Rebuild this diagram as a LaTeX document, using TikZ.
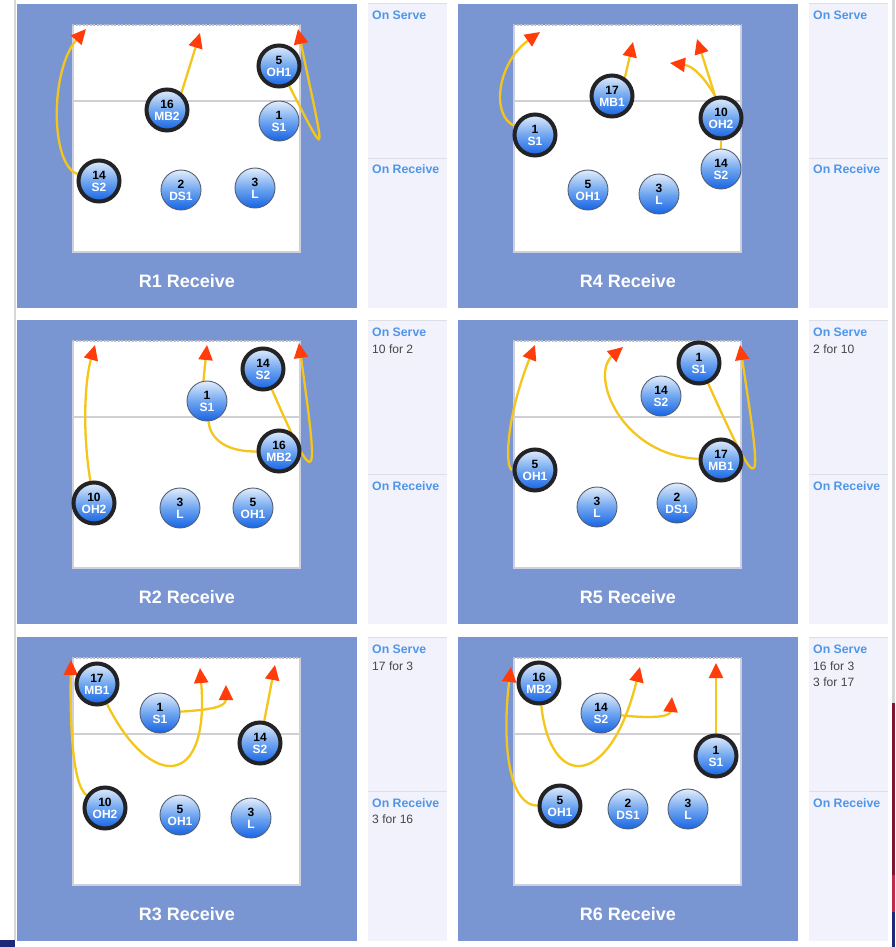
\documentclass[tikz,border=0pt]{standalone}
\usepackage{fontspec}
\setmainfont{Liberation Sans}
\usetikzlibrary{arrows.meta}
\definecolor{panelblue}{RGB}{121,149,210}
\definecolor{sidebg}{RGB}{241,242,252}
\definecolor{sideline}{RGB}{220,222,232}
\definecolor{courtline}{RGB}{205,209,222}
\definecolor{netline}{RGB}{208,208,212}
\definecolor{servblue}{RGB}{80,150,232}
\definecolor{subtext}{RGB}{70,70,70}
\definecolor{pltop}{RGB}{226,237,251}
\definecolor{plmid}{RGB}{112,166,240}
\definecolor{plbot}{RGB}{22,100,228}
\definecolor{plborder}{RGB}{85,95,115}
\definecolor{ringc}{RGB}{35,35,38}
\definecolor{mvyellow}{RGB}{244,198,28}
\definecolor{tipred}{RGB}{255,60,10}
\definecolor{edgegray}{RGB}{215,215,218}
\definecolor{navy}{RGB}{30,40,120}
\definecolor{maroon}{RGB}{125,22,50}
\definecolor{crimson}{RGB}{190,45,75}
\pgfdeclarelayer{back}\pgfdeclarelayer{mid}\pgfsetlayers{back,mid,main}
\tikzset{
  pl/.style={circle, inner sep=0pt, minimum size=40pt, draw=plborder, line width=0.9pt,
    top color=pltop, bottom color=plbot, middle color=plmid, align=center,
    font=\fontsize{12}{12}\selectfont\bfseries, text=white},
  plb/.style={pl, minimum size=41pt, draw=ringc, line width=4pt},
  mv/.style={draw=mvyellow, line width=2.3pt, -{Triangle[length=15pt,width=14pt,color=tipred]}},
  mvline/.style={draw=mvyellow, line width=2.3pt},
  paneltitle/.style={anchor=base, text=white, font=\fontsize{18}{20}\selectfont\bfseries},
  sidehead/.style={anchor=base west, inner sep=0pt, text=servblue, font=\fontsize{12.3}{14}\selectfont\bfseries},
  sidesub/.style={anchor=base west, inner sep=0pt, text=subtext, font=\fontsize{12.1}{14}\selectfont},
}
\newcommand{\vbpanel}[4]{%
  \begin{pgfonlayer}{back}
  \fill[panelblue] (17+#1,#2) rectangle (357+#1,#2+304);
  \fill[white] (73+#1,#2+21) rectangle (300+#1,#2+248);
  \draw[courtline, line width=2.5pt] (73+#1,#2+21) -- (73+#1,#2+248) -- (300+#1,#2+248) -- (300+#1,#2+21);
  \draw[gray!50, line width=1.5pt, dash pattern=on 2pt off 1.5pt] (72+#1,#2+21) -- (301+#1,#2+21);
  \draw[netline, line width=2pt] (74+#1,#2+97) -- (299+#1,#2+97);
  \fill[sidebg] (368+#1,#2) rectangle (447+#1,#2+304);
  \draw[sideline, line width=1pt] (368+#1,#2) -- (447+#1,#2);
  \draw[sideline, line width=1pt] (368+#1,#2+154) -- (447+#1,#2+154);
  \end{pgfonlayer}
  \node[paneltitle] (#4) at (187+#1,#2+283) {#3};
}
\begin{document}
\begin{tikzpicture}[x=1pt,y=-1pt]
\useasboundingbox (0,0) rectangle (895,947);
\begin{pgfonlayer}{back}
\fill[white] (0,0) rectangle (895,947);
\fill[edgegray] (13.5,0) rectangle (16,940);
\fill[navy] (0,940) rectangle (15,947);
\fill[edgegray] (892,0) rectangle (895,703);
\fill[maroon] (892,703) rectangle (895,875);
\fill[crimson] (892,875) rectangle (895,912);
\fill[navy] (892,912) rectangle (895,947);
\end{pgfonlayer}

\vbpanel{0}{4}{R1 Receive}{ttl1}
\vbpanel{441}{4}{R4 Receive}{ttl4}
\vbpanel{0}{320}{R2 Receive}{ttl2}
\vbpanel{441}{320}{R5 Receive}{ttl5}
\vbpanel{0}{637}{R3 Receive}{ttl3}
\vbpanel{441}{637}{R6 Receive}{ttl6}

% side texts
\node[sidehead] (s1a) at (372,20) {On Serve};
\node[sidehead] (s1b) at (372,173) {On Receive};
\node[sidehead] (s4a) at (813,20) {On Serve};
\node[sidehead] (s4b) at (813,173) {On Receive};
\node[sidehead] (s2a) at (372,336) {On Serve};
\node[sidesub] (s2c) at (372,353) {10 for 2};
\node[sidehead] (s2b) at (372,490) {On Receive};
\node[sidehead] (s5a) at (813,336) {On Serve};
\node[sidesub] (s5c) at (813,353) {2 for 10};
\node[sidehead] (s5b) at (813,490) {On Receive};
\node[sidehead] (s3a) at (372,653) {On Serve};
\node[sidesub] (s3c) at (372,670) {17 for 3};
\node[sidehead] (s3b) at (372,807) {On Receive};
\node[sidesub] (s3d) at (372,823) {3 for 16};
\node[sidehead] (s6a) at (813,653) {On Serve};
\node[sidesub] (s6c) at (813,670) {16 for 3};
\node[sidesub] (s6d) at (813,686.5) {3 for 17};
\node[sidehead] (s6b) at (813,807) {On Receive};

% ---- R1
\node[plb] (r1a) at (279,66) {\textcolor{black}{5}\\OH1};
\node[plb] (r1b) at (167,110) {\textcolor{black}{16}\\MB2};
\node[pl]  (r1c) at (279,121) {\textcolor{black}{1}\\S1};
\node[plb] (r1d) at (99,181) {\textcolor{black}{14}\\S2};
\node[pl]  (r1e) at (181,190) {\textcolor{black}{2}\\DS1};
\node[pl]  (r1f) at (255,188) {\textcolor{black}{3}\\L};
\coordinate (r1t1) at (86,29);
\coordinate (r1t2) at (200,33);
\coordinate (r1t3) at (298,29);
% ---- R4
\node[plb] (r4a) at (612,96) {\textcolor{black}{17}\\MB1};
\node[plb] (r4b) at (535,135) {\textcolor{black}{1}\\S1};
\node[plb] (r4c) at (721,118) {\textcolor{black}{10}\\OH2};
\node[pl]  (r4d) at (721,169) {\textcolor{black}{14}\\S2};
\node[pl]  (r4e) at (588,190) {\textcolor{black}{5}\\OH1};
\node[pl]  (r4f) at (659,194) {\textcolor{black}{3}\\L};
\coordinate (r4t1) at (540,32);
\coordinate (r4t2) at (633,42);
\coordinate (r4t3) at (697,39);
\coordinate (r4t4) at (670,63);
% ---- R2
\node[plb] (r2a) at (263,369) {\textcolor{black}{14}\\S2};
\node[pl]  (r2b) at (207,401) {\textcolor{black}{1}\\S1};
\node[plb] (r2c) at (279,451) {\textcolor{black}{16}\\MB2};
\node[plb] (r2d) at (94,503) {\textcolor{black}{10}\\OH2};
\node[pl]  (r2e) at (180,508) {\textcolor{black}{3}\\L};
\node[pl]  (r2f) at (253,508) {\textcolor{black}{5}\\OH1};
\coordinate (r2t1) at (95,345);
\coordinate (r2t2) at (207,345);
\coordinate (r2t3) at (299,343);
% ---- R5
\node[plb] (r5a) at (699,363) {\textcolor{black}{1}\\S1};
\node[pl]  (r5b) at (661,396) {\textcolor{black}{14}\\S2};
\node[plb] (r5c) at (721,460) {\textcolor{black}{17}\\MB1};
\node[plb] (r5d) at (535,470) {\textcolor{black}{5}\\OH1};
\node[pl]  (r5e) at (597,507) {\textcolor{black}{3}\\L};
\node[pl]  (r5f) at (677,503) {\textcolor{black}{2}\\DS1};
\coordinate (r5t1) at (535,345);
\coordinate (r5t2) at (623,347);
\coordinate (r5t3) at (740,345);
% ---- R3
\node[plb] (r3a) at (97,684) {\textcolor{black}{17}\\MB1};
\node[pl]  (r3b) at (160,713) {\textcolor{black}{1}\\S1};
\node[plb] (r3c) at (260,743) {\textcolor{black}{14}\\S2};
\node[plb] (r3d) at (105,808) {\textcolor{black}{10}\\OH2};
\node[pl]  (r3e) at (180,815) {\textcolor{black}{5}\\OH1};
\node[pl]  (r3f) at (251,818) {\textcolor{black}{3}\\L};
\coordinate (r3t1) at (71,660);
\coordinate (r3t2) at (200,668);
\coordinate (r3t3) at (226,685);
\coordinate (r3t4) at (275,665);
% ---- R6
\node[plb] (r6a) at (539,683) {\textcolor{black}{16}\\MB2};
\node[pl]  (r6b) at (601,713) {\textcolor{black}{14}\\S2};
\node[plb] (r6c) at (716,756) {\textcolor{black}{1}\\S1};
\node[plb] (r6d) at (560,806) {\textcolor{black}{5}\\OH1};
\node[pl]  (r6e) at (628,809) {\textcolor{black}{2}\\DS1};
\node[pl]  (r6f) at (688,809) {\textcolor{black}{3}\\L};
\coordinate (r6t1) at (511,667);
\coordinate (r6t2) at (640,667);
\coordinate (r6t3) at (672,697);
\coordinate (r6t4) at (716,663);

\begin{pgfonlayer}{mid}
% R1
\draw[mv] (r1d) .. controls (50,165) and (50,70) .. (r1t1);
\draw[mv] (r1b.50) -- (r1t2);
\draw[mv] (r1a) .. controls (330,165) and (325,160) .. (r1t3);
% R4
\draw[mv] (r4b) .. controls (490,115) and (498,62) .. (r4t1);
\draw[mv] (r4a.55) -- (r4t2);
\draw[mv] (r4c.105) -- (r4t3);
\draw[mv] (r4c.105) .. controls (706,80) and (694,66) .. (r4t4);
\draw[mvline] (r4d) -- (r4c);
% R2
\draw[mv] (r2d) .. controls (82,430) and (85,380) .. (r2t1);
\draw[mv] (r2b.100) -- (r2t2);
\draw[mvline] (r2c) .. controls (228,452) and (210,440) .. (r2b);
\draw[mv] (r2a) .. controls (320,500) and (318,480) .. (r2t3);
% R5
\draw[mv] (r5d) .. controls (505,470) and (505,420) .. (r5t1);
\draw[mv] (r5c) .. controls (620,455) and (590,375) .. (r5t2);
\draw[mv] (r5a) .. controls (765,510) and (762,490) .. (r5t3);
% R3
\draw[mv] (r3d) .. controls (72,785) and (70,720) .. (r3t1);
\draw[mv] (r3a) .. controls (150,790) and (210,790) .. (r3t2);
\draw[mv] (r3b) .. controls (205,710) and (226,708) .. (r3t3);
\draw[mv] (r3c) -- (r3t4);
% R6
\draw[mv] (r6d) .. controls (505,805) and (503,730) .. (r6t1);
\draw[mv] (r6a) .. controls (550,790) and (610,790) .. (r6t2);
\draw[mv] (r6b) .. controls (645,718) and (670,718) .. (r6t3);
\draw[mv] (r6c) -- (r6t4);
\end{pgfonlayer}
\end{tikzpicture}
\end{document}
